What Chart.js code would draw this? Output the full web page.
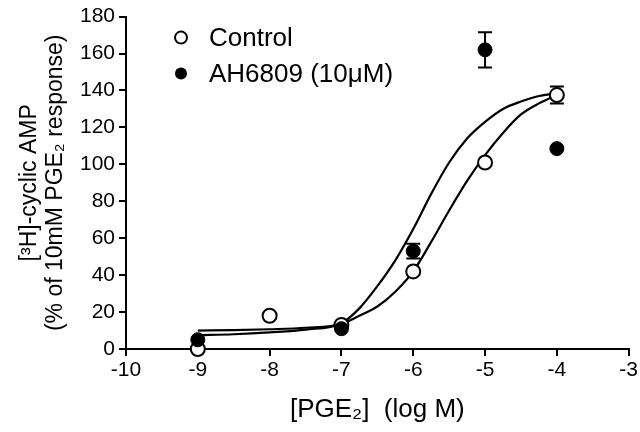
<!DOCTYPE html>
<html>
<head>
<meta charset="utf-8">
<script src="https://cdn.jsdelivr.net/npm/chart.js@4.4.1/dist/chart.umd.min.js"></script>
<style>
  html, body { margin: 0; padding: 0; background: #fff; }
  #wrap { width: 640px; height: 432px; }
</style>
</head>
<body>
<div id="wrap"><canvas id="cAMPChart" width="640" height="432"></canvas></div>
<script>
// --- data ---
const controlDoses = [-9, -8, -7, -6, -5, -4];
const controlMean = [0, 18, 13, 42, 101, 137.5];
const controlErr = [0, 0, 0, 0, 0, 4.6];

const ahDoses = [-9, -7, -6, -5, -4];
const ahMean = [5, 11, 53, 162, 108.5];
const ahErr = [0, 0, 4, 9.5, 0];

// fitted curves
const fitDoses = [-9, -8.5, -8, -7.5, -7, -6.75, -6.5, -6.25, -6, -5.75, -5.5, -5.25, -5, -4.75, -4.5, -4.25, -4];
const controlFit = [10, 10.2, 10.7, 11.5, 13.5, 18, 23, 31, 42, 58, 75, 91, 105, 117, 127, 133, 137.5];
const ahFit = [7.5, 8, 9, 10.5, 14, 22, 34, 48, 65, 84, 101, 114, 123, 130, 134, 137, 138.5];

const legendLabels = ["Control", "AH6809 (10\u03bcM)"];
const yTitle = ["[\u00b3H]-cyclic AMP", "(% of 10mM PGE\u2082 response)"];
const xTitle = "[PGE\u2082]  (log M)";

const FONT = "'Liberation Sans', Arial, Helvetica, sans-serif";

const toPoints = (xs, ys) => xs.map((x, i) => ({ x: x, y: ys[i] }));

// --- error bars, drawn under the markers ---
const errorBars = {
  id: 'errorBars',
  beforeDatasetsDraw(chart) {
    const { ctx, scales: { x, y } } = chart;
    const sets = [[controlDoses, controlMean, controlErr], [ahDoses, ahMean, ahErr]];
    ctx.save();
    ctx.strokeStyle = '#000';
    ctx.lineWidth = 2;
    sets.forEach(([xs, ms, es]) => {
      xs.forEach((d, i) => {
        if (!es[i]) return;
        const px = x.getPixelForValue(d);
        const top = y.getPixelForValue(ms[i] + es[i]);
        const bot = y.getPixelForValue(ms[i] - es[i]);
        ctx.beginPath();
        ctx.moveTo(px, top); ctx.lineTo(px, bot);
        ctx.moveTo(px - 7, top); ctx.lineTo(px + 7, top);
        ctx.moveTo(px - 7, bot); ctx.lineTo(px + 7, bot);
        ctx.stroke();
      });
    });
    ctx.restore();
  }
};

// --- legend inside the plot, top left ---
const insideLegend = {
  id: 'insideLegend',
  afterDraw(chart) {
    const { ctx, chartArea } = chart;
    const cx = chartArea.left + 55;
    let cy = chartArea.top + 21;
    ctx.save();
    ctx.font = `26px ${FONT}`;
    ctx.textBaseline = 'middle';
    ctx.fillStyle = '#000';
    ctx.strokeStyle = '#000';
    ctx.lineWidth = 2;
    legendLabels.forEach((label, i) => {
      ctx.beginPath();
      ctx.arc(cx, cy, 6, 0, Math.PI * 2);
      if (i === 0) { ctx.fillStyle = '#fff'; ctx.fill(); ctx.stroke(); }
      else { ctx.fillStyle = '#000'; ctx.fill(); }
      ctx.fillStyle = '#000';
      ctx.fillText(label, cx + 28, cy + 1);
      cy += 36;
    });
    ctx.restore();
  }
};

new Chart(document.getElementById('cAMPChart'), {
  type: 'scatter',
  data: {
    datasets: [
      {
        label: 'Control fit',
        data: toPoints(fitDoses, controlFit),
        showLine: true,
        borderColor: '#000',
        borderWidth: 2.2,
        pointRadius: 0,
        cubicInterpolationMode: 'monotone',
        order: 2
      },
      {
        label: 'AH6809 fit',
        data: toPoints(fitDoses, ahFit),
        showLine: true,
        borderColor: '#000',
        borderWidth: 2.2,
        pointRadius: 0,
        cubicInterpolationMode: 'monotone',
        order: 2
      },
      {
        label: legendLabels[0],
        data: toPoints(controlDoses, controlMean),
        pointRadius: 7,
        pointBackgroundColor: '#fff',
        pointBorderColor: '#000',
        pointBorderWidth: 2,
        order: 1
      },
      {
        label: legendLabels[1],
        data: toPoints(ahDoses, ahMean),
        pointRadius: 7,
        pointBackgroundColor: '#000',
        pointBorderColor: '#000',
        pointBorderWidth: 1,
        order: 0
      }
    ]
  },
  options: {
    responsive: false,
    animation: false,
    clip: false,
    layout: { padding: { top: 14, right: 10, left: 0, bottom: 0 } },
    plugins: {
      legend: { display: false },
      tooltip: { enabled: false }
    },
    scales: {
      x: {
        type: 'linear',
        min: -10,
        max: -3,
        afterFit: (scale) => { scale.height = 83; },
        ticks: { stepSize: 1, color: '#000', padding: 2, font: { family: FONT, size: 21 } },
        grid: { drawOnChartArea: false, drawTicks: true, tickLength: 7, color: '#000', lineWidth: 2 },
        border: { display: true, color: '#000', width: 2 },
        title: { display: true, text: xTitle, color: '#000', padding: { bottom: 7, top: 0 }, font: { family: FONT, size: 26 } }
      },
      y: {
        type: 'linear',
        min: 0,
        max: 180,
        afterFit: (scale) => { scale.width = 126; },
        ticks: { stepSize: 20, color: '#000', padding: 4, font: { family: FONT, size: 21 } },
        grid: { drawOnChartArea: false, drawTicks: true, tickLength: 7, color: '#000', lineWidth: 2 },
        border: { display: true, color: '#000', width: 2 },
        title: { display: true, text: yTitle, color: '#000', padding: { top: 17, bottom: 0 }, font: { family: FONT, size: 23, lineHeight: 1.13 } }
      }
    }
  },
  plugins: [errorBars, insideLegend]
});
</script>
</body>
</html>
